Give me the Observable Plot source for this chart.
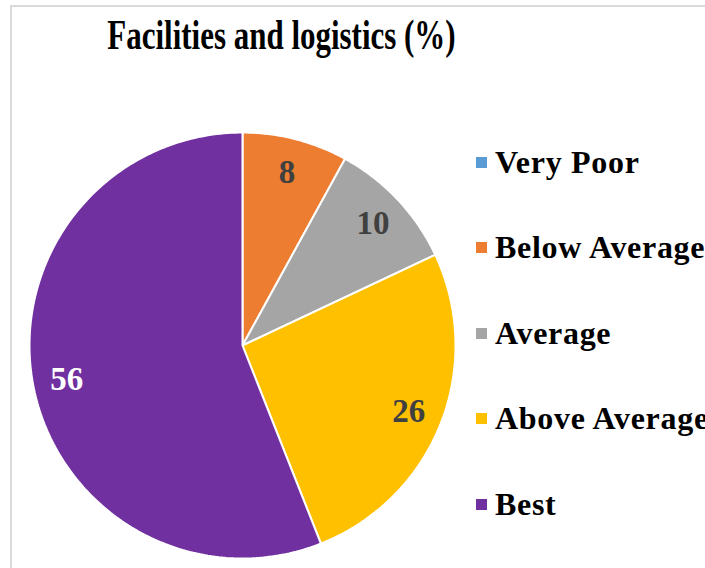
<!DOCTYPE html>
<html>
<head>
<meta charset="utf-8">
<script src="https://cdn.jsdelivr.net/npm/d3@7"></script>
<script src="https://cdn.jsdelivr.net/npm/@observablehq/plot@0.6"></script>
<style>
  html, body { margin: 0; padding: 0; overflow: hidden; background: white; }
  #wrap { position: relative; width: 705px; height: 568px; overflow: hidden; }
  #frame { position: absolute; left: 10px; top: 5px; width: 900px; height: 800px;
           border-top: 2px solid #d9d9d9; border-left: 2px solid #d9d9d9; box-sizing: border-box; }
  #title { position: absolute; left: 0; top: 13px; width: 563px; text-align: center;
           font: bold 43px/43px "Liberation Serif", "Times New Roman", serif; color: #000;
           transform: scaleX(0.72); transform-origin: center; white-space: nowrap; }
  #chart { position: absolute; left: 0; top: 70px; }
  #wrap .lg-swatches { position: absolute; left: 476px; top: 119.5px; width: 320px; margin: 0;
        font: bold 32px "Liberation Serif", "Times New Roman", serif; color: #000; letter-spacing: 0.7px; }
  #wrap .lg-swatch { height: 85.5px; padding-bottom: 0; display: flex; align-items: center; }
  #wrap .lg-swatch > svg { margin-right: 8px; }
  #wrap .lg-swatch-label { overflow: visible; text-overflow: clip; white-space: nowrap; }
</style>
</head>
<body>
<div id="wrap">
  <div id="frame"></div>
  <div id="title">Facilities and logistics (%)</div>
  <div id="chart"></div>
</div>
<script>
const categories = ["Very Poor", "Below Average", "Average", "Above Average", "Best"];
const values = [0, 8, 10, 26, 56];
const colors = ["#5B9BD5", "#ED7D31", "#A5A5A5", "#FFC000", "#7030A0"];

const slices = categories.map((c, i) => ({category: c, value: values[i]}));
const arcs = d3.pie().sort(null).value(d => d.value)(slices).filter(a => a.data.value > 0);

const outline = arcs.flatMap(a => {
  const c = a.data.category;
  const n = Math.max(2, Math.ceil((a.endAngle - a.startAngle) / (Math.PI / 180)));
  const pts = [{category: c, x: 0, y: 0}];
  for (let k = 0; k <= n; ++k) {
    const t = a.startAngle + (a.endAngle - a.startAngle) * k / n;
    pts.push({category: c, x: Math.sin(t), y: Math.cos(t)});
  }
  pts.push({category: c, x: 0, y: 0});
  return pts;
});

const labels = arcs.map(a => {
  const mid = (a.startAngle + a.endAngle) / 2;
  return {category: a.data.category, text: String(a.data.value), x: 0.84 * Math.sin(mid), y: 0.84 * Math.cos(mid)};
});

const colorOpts = {domain: categories, range: colors};

const chart = Plot.plot({
  width: 705,
  height: 498,
  marginLeft: 29,
  marginRight: 250,
  marginTop: 62,
  marginBottom: 10,
  x: {domain: [-1, 1], axis: null},
  y: {domain: [-1, 1], axis: null},
  color: colorOpts,
  style: {background: "transparent", overflow: "visible"},
  marks: [
    Plot.line(outline, {x: "x", y: "y", z: "category", fill: "category", stroke: "white", strokeWidth: 2, strokeLinejoin: "miter"}),
    Plot.text(labels, {filter: d => d.category !== "Best", x: "x", y: "y", text: "text", fill: "#404040",
      fontSize: 33, fontWeight: "bold", fontFamily: "Liberation Serif"}),
    Plot.text(labels, {filter: d => d.category === "Best", x: "x", y: "y", text: "text", fill: "white",
      fontSize: 33, fontWeight: "bold", fontFamily: "Liberation Serif"})
  ]
});
document.getElementById("chart").appendChild(chart);

const legend = Plot.legend({color: {...colorOpts, type: "ordinal"}, columns: 1, swatchSize: 11, className: "lg"});
document.getElementById("wrap").appendChild(legend);
</script>
</body>
</html>
